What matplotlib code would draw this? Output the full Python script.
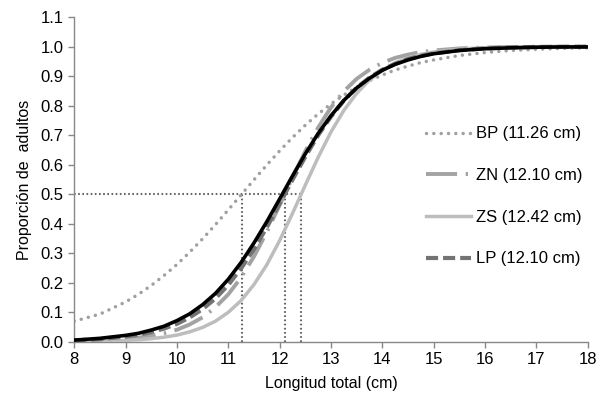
import matplotlib
matplotlib.use('Agg')
import matplotlib.pyplot as plt

plt.rcParams['font.family'] = ['Liberation Sans', 'DejaVu Sans']

# longitud total (cm)
x = [8, 8.5, 9, 9.25, 9.5, 9.75, 10, 10.25, 10.5, 10.75, 11, 11.25, 11.5,
     11.75, 12, 12.25, 12.5, 12.75, 13, 13.25, 13.5, 13.75, 14, 14.25, 14.5,
     14.75, 15, 15.5, 16, 16.5, 17, 17.5, 18]

bp = [0.07, 0.094, 0.135, 0.161, 0.191, 0.225, 0.262, 0.304, 0.349, 0.397,
      0.447, 0.498, 0.549, 0.599, 0.647, 0.692, 0.734, 0.772, 0.806, 0.836,
      0.863, 0.885, 0.904, 0.921, 0.934, 0.946, 0.955, 0.970, 0.980, 0.987,
      0.991, 0.994, 0.996]
zn = [0.002, 0.005, 0.010, 0.014, 0.020, 0.029, 0.041, 0.059, 0.083, 0.117,
      0.161, 0.218, 0.289, 0.372, 0.463, 0.556, 0.646, 0.726, 0.794, 0.849,
      0.891, 0.922, 0.945, 0.962, 0.973, 0.982, 0.987, 0.994, 0.997, 0.999,
      0.999, 1.0, 1.0]
zs = [0.001, 0.002, 0.005, 0.007, 0.011, 0.016, 0.023, 0.034, 0.049, 0.070,
      0.100, 0.140, 0.194, 0.261, 0.343, 0.435, 0.531, 0.625, 0.711, 0.784,
      0.842, 0.887, 0.920, 0.945, 0.962, 0.974, 0.982, 0.992, 0.996, 0.998,
      0.999, 1.0, 1.0]
lp = [0.005, 0.009, 0.018, 0.024, 0.033, 0.045, 0.061, 0.083, 0.111, 0.147,
      0.193, 0.249, 0.314, 0.388, 0.468, 0.549, 0.627, 0.700, 0.763, 0.817,
      0.861, 0.895, 0.922, 0.942, 0.958, 0.969, 0.977, 0.988, 0.994, 0.997,
      0.999, 0.999, 1.0]
total = [0.006, 0.012, 0.022, 0.029, 0.040, 0.053, 0.072, 0.095, 0.126, 0.164,
         0.212, 0.269, 0.335, 0.407, 0.484, 0.562, 0.637, 0.706, 0.766, 0.818,
         0.860, 0.893, 0.920, 0.940, 0.955, 0.967, 0.976, 0.987, 0.993, 0.996,
         0.998, 0.999, 0.999]

l50 = [11.26, 12.10, 12.42]
labels = ['BP (11.26 cm)', 'ZN (12.10 cm)', 'ZS (12.42 cm)', 'LP (12.10 cm)']

fig = plt.figure(figsize=(5.98, 3.98), dpi=100)
ax = fig.add_axes([0.124, 0.141, 0.859, 0.816])

# lineas de referencia L50
ax.plot([8, max(l50)], [0.5, 0.5], color='#666666', lw=1.5,
        linestyle=(0, (0.8, 1.2)), zorder=1)
for v in l50:
    ax.plot([v, v], [0, 0.5], color='#666666', lw=1.5,
            linestyle=(0, (0.8, 1.2)), zorder=1)

ax.plot(x, bp, color='#a0a0a0', lw=2.5, linestyle=(0, (0.01, 2.1)),
        dash_capstyle='round', label=labels[0], zorder=2)
ax.plot(x, zn, color='#a3a3a3', lw=2.8, linestyle=(0, (8, 2.2, 0.6, 2.2)),
        label=labels[1], zorder=3)
ax.plot(x, zs, color='#bdbdbd', lw=2.5, label=labels[2], zorder=3)
ax.plot(x, lp, color='#737373', lw=3, linestyle=(0, (2.9, 1.2)),
        label=labels[3], zorder=4)
ax.plot(x, total, color='black', lw=2.6, zorder=5)

ax.set_xlim(8, 18)
ax.set_ylim(0, 1.1)
ax.set_xticks(range(8, 19))
ax.set_yticks([i / 10 for i in range(12)])
ax.set_yticklabels(['%.1f' % (i / 10) for i in range(12)])
ax.tick_params(labelsize=12, color='#888888', length=4, width=1)
for s in ['top', 'right']:
    ax.spines[s].set_visible(False)
for s in ['left', 'bottom']:
    ax.spines[s].set_color('#888888')
    ax.spines[s].set_linewidth(1)

ax.set_xlabel('Longitud total (cm)', fontsize=11.5, labelpad=6)
ax.set_ylabel('Proporción de  adultos', fontsize=11.5, labelpad=6)

ax.legend(loc='upper left', bbox_to_anchor=(0.687, 0.72),
          bbox_transform=fig.transFigure, frameon=False, fontsize=12,
          handlelength=2.7, handletextpad=0.3, labelspacing=1.6)

fig.savefig('out.png', dpi=100)
